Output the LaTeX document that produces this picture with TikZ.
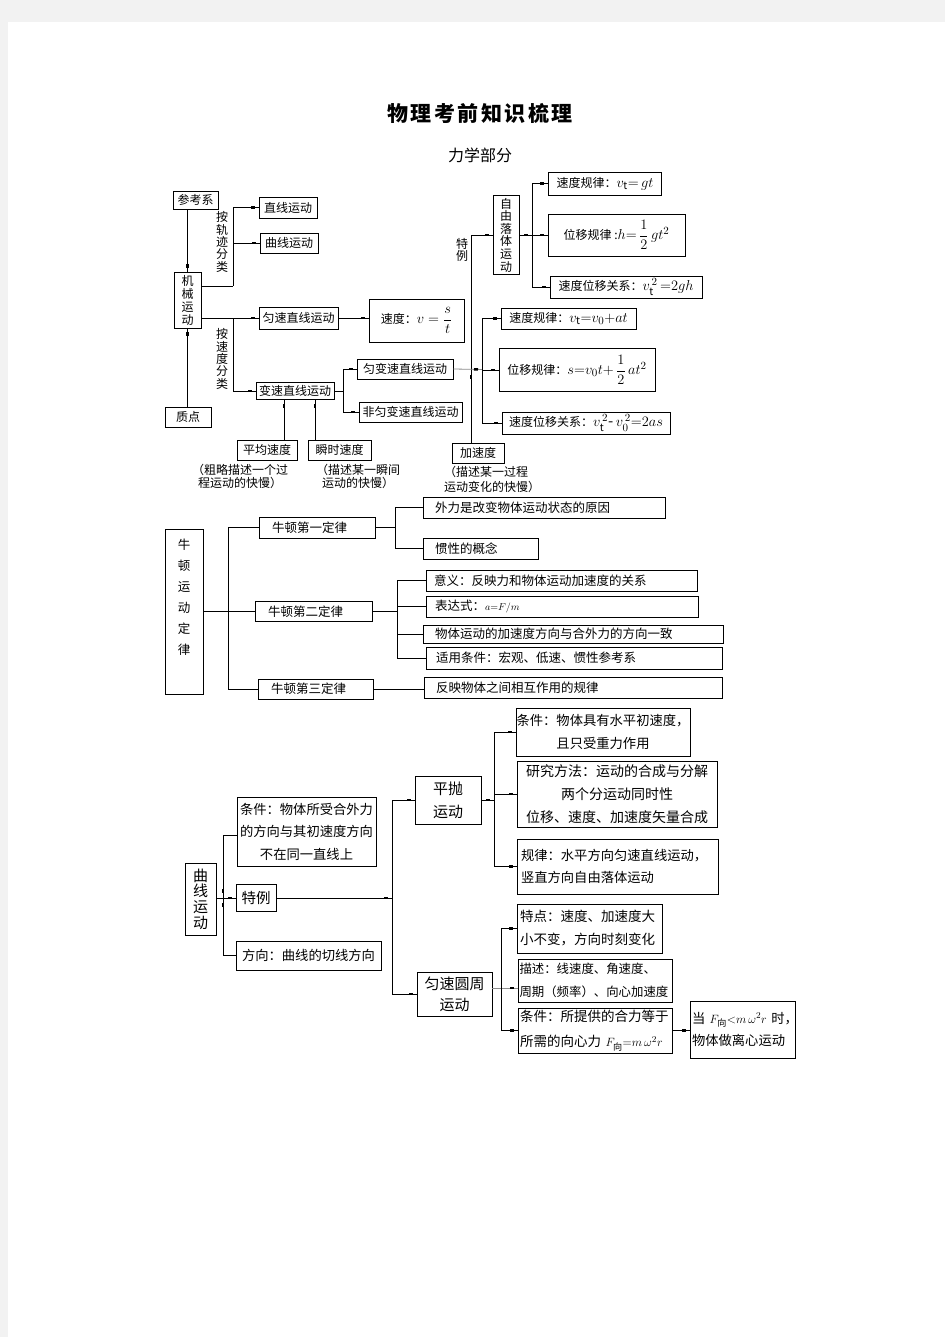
\documentclass[tikz,border=0pt]{standalone}
\usepackage{amsmath}
\usepackage{fontspec}
\setmainfont{Noto Sans CJK SC}
\usetikzlibrary{decorations.markings}
\newcommand\mymark{\fill[black] (-2pt,-1.3pt) rectangle (2pt,1.3pt);}
\newcommand\mth[1]{{\fontsize{15}{15}\selectfont$#1$}}
\newcommand\mths[1]{{\fontsize{13}{13}\selectfont$#1$}}
\begin{document}
\begin{tikzpicture}[x=1pt,y=-1pt,
  bx/.style={draw,line width=0.8pt,inner sep=0pt,align=center},
  lbx/.style={draw,line width=0.8pt,inner ysep=0pt,inner xsep=#1,align=left},
  lbx/.default=10pt,
  ln/.style={line width=0.8pt},
  gl/.style={line width=0.8pt,black!45},
  mk/.style={postaction={decorate,decoration={markings,mark=at position -6pt with {\mymark}}}},
  mks/.style={postaction={decorate,decoration={markings,mark=at position 7pt with {\mymark}}}},
  mkat/.style={postaction={decorate,decoration={markings,mark=at position #1 with {\mymark}}}},
  fA/.style={font=\fontsize{12}{13}\selectfont},
  fB/.style={font=\fontsize{12.5}{14}\selectfont},
  fC/.style={font=\fontsize{13.3}{22.5}\selectfont},
  fD/.style={font=\fontsize{15}{23}\selectfont},
]
\useasboundingbox (0,0) rectangle (945,1337);
\fill[black!5] (0,0) rectangle (945,1337);
\fill[white] (8,22) rectangle (945,1337);

% titles
\node[font=\fontsize{21}{21}\selectfont\bfseries] (title) at (480,113) {物\hspace{2.5pt}理\hspace{2.5pt}考\hspace{2.5pt}前\hspace{2.5pt}知\hspace{2.5pt}识\hspace{2.5pt}梳\hspace{2.5pt}理};
\node[font=\fontsize{16}{16}\selectfont] (subtitle) at (480,155) {力学部分};

% ---------------- Section 1 ----------------
\node[bx,fA,minimum width=45pt,minimum height=18pt] (cankao) at (195.5,200) {参考系};
\node[bx,fA,minimum width=27pt,minimum height=56pt] (jixie) at (187.5,300) {机\\械\\运\\动};
\node[bx,fA,minimum width=46pt,minimum height=20pt] (zhidian) at (188,417) {质点};
\node[bx,fA,minimum width=58pt,minimum height=21pt] (zhixian) at (288,207.5) {直线运动};
\node[bx,fA,minimum width=58pt,minimum height=20pt] (quxian) at (289,243) {曲线运动};
\node[align=center,inner sep=0pt,font=\fontsize{12}{12.3}\selectfont] (guiji) at (222,242) {按\\轨\\迹\\分\\类};
\node[align=center,inner sep=0pt,font=\fontsize{12}{12.3}\selectfont] (sdfl) at (222,359) {按\\速\\度\\分\\类};
\node[bx,fA,minimum width=79pt,minimum height=22pt] (yunsu) at (298.5,318) {匀速直线运动};
\node[bx,fA,minimum width=95pt,minimum height=43pt] (sudu) at (416.5,320.5) {速度：\mth{v=\dfrac{s}{t}}};
\node[bx,fA,minimum width=78pt,minimum height=17pt] (biansu) at (295,391) {变速直线运动};
\node[bx,fA,minimum width=96pt,minimum height=20pt] (yunbian) at (405,369) {匀变速直线运动};
\node[bx,fA,minimum width=103pt,minimum height=20pt] (feiyun) at (410.5,412) {非匀变速直线运动};
\node[bx,fA,minimum width=60pt,minimum height=20pt] (pingjun) at (267,450) {平均速度};
\node[bx,fA,minimum width=63pt,minimum height=20pt] (shunshi) at (339.5,450) {瞬时速度};
\node[fA,align=center,inner sep=0pt] (note1) at (240,476) {（粗略描述一个过\\程运动的快慢）};
\node[fA,align=center,inner sep=0pt] (note2) at (358,476) {（描述某一瞬间\\运动的快慢）};
\node[bx,fA,minimum width=52pt,minimum height=20pt] (jiasudu) at (478,453) {加速度};
\node[align=left,inner sep=0pt,anchor=north west,font=\fontsize{12}{15}\selectfont] (note3) at (444,466) {（描述某一过程\\运动变化的快慢）};
\node[align=center,inner sep=0pt,font=\fontsize{12}{12.5}\selectfont] (teliA) at (462,250) {特\\例};
\node[bx,minimum width=26pt,minimum height=79pt,font=\fontsize{12}{12.6}\selectfont] (ziyou) at (506,235) {自\\由\\落\\体\\运\\动};
\node[bx,fA,minimum width=113pt,minimum height=23pt] (zy1) at (605,183.5) {速度规律：\mth{v_{\mathrm{t}}{=}\,gt}};
\node[bx,fA,minimum width=137pt,minimum height=42pt] (zy2) at (616.5,235) {位移规律 :\mth{h{=}\,\dfrac{1}{2}\,gt^2}};
\node[bx,fA,minimum width=152pt,minimum height=22pt] (zy3) at (626,287) {速度位移关系：\mth{v_{\mathrm{t}}^{\,2}\,{=}2gh}};
\node[bx,fA,minimum width=135pt,minimum height=21pt] (yb1) at (568.5,318.5) {速度规律：\mth{v_{\mathrm{t}}{=}v_0{+}at}};
\node[bx,fA,minimum width=156pt,minimum height=43pt] (yb2) at (577,370) {位移规律：\mth{s{=}v_0t{+}\,\dfrac{1}{2}\,at^2}};
\node[bx,fA,minimum width=168pt,minimum height=22pt] (yb3) at (586,423) {速度位移关系：\mth{v_{\mathrm{t}}^{\,2}\text{-}\,v_0^{\,2}{=}2as}};

\coordinate (bA) at (233,286);
\coordinate (bB) at (233,318);
\coordinate (bC) at (343,391);
\coordinate (bD) at (482,369.5);
\coordinate (bE) at (532,235);
\draw[ln,mk] (cankao.south -| jixie.north) -- (jixie.north);
\draw[ln,mk] (zhidian.north -| jixie.south) -- (jixie.south);
\draw[ln] (jixie.east |- bA) -- (bA);
\draw[ln,mk] (bA) |- (zhixian.west);
\draw[ln,mk] (bA |- quxian.west) -- (quxian.west);
\draw[ln,mk] (jixie.east |- yunsu.west) -- (yunsu.west);
\draw[ln,mk] (bB) |- (biansu.west);
\draw[ln,mk] (yunsu.east) -- (sudu.west |- yunsu.east);
\draw[ln] (biansu.east) -- (bC);
\draw[ln,mk] (bC) |- (yunbian.west);
\draw[ln,mk] (bC) |- (feiyun.west);
\coordinate (pjt) at ([xshift=17pt]pingjun.north);
\draw[ln,mk] (pjt) -- (pjt |- biansu.south);
\coordinate (sst) at ([xshift=-24.5pt]shunshi.north);
\draw[ln,mk] (sst) -- (sst |- biansu.south);
\coordinate (jst) at ([xshift=-7pt]jiasudu.north);
\draw[ln,mk,mkat=66pt] (jst) |- (ziyou.west);
\draw[gl,mk] (yunbian.east) -- (bD);
\draw[ln,mk] (bD) |- (yb1.west);
\draw[ln,mk] (bD) |- (yb2.west);
\draw[ln,mk] (bD) |- (yb3.west);
\draw[ln,mks] (ziyou.east) -- (bE);
\draw[ln,mk] (bE) |- (zy1.west);
\draw[ln,mk] (bE) -- (zy2.west);
\draw[ln,mk] (bE) |- (zy3.west);

% ---------------- Section 2 ----------------
\node[bx,minimum width=38pt,minimum height=165pt] (niudun) at (184,611.5) {};
\node[align=center,inner sep=0pt,font=\fontsize{12.5}{21}\selectfont] (niudunT) at (184,597.5) {牛\\顿\\运\\动\\定\\律};
\node[lbx=13pt,fB,text width=90pt,minimum height=21pt] (n1) at (317,527.5) {牛顿第一定律};
\node[lbx=13pt,fB,text width=91pt,minimum height=20pt] (n2) at (313.5,611.5) {牛顿第二定律};
\node[lbx=13pt,fB,text width=89pt,minimum height=20pt] (n3) at (315.5,689) {牛顿第三定律};
\node[lbx=12pt,fB,text width=218pt,minimum height=21pt] (n1a) at (544,507.5) {外力是改变物体运动状态的原因};
\node[lbx=12pt,fB,text width=91pt,minimum height=21pt] (n1b) at (480.5,548.5) {惯性的概念};
\node[lbx=8pt,fB,text width=255pt,minimum height=21pt] (n2a) at (561.5,580.5) {意义：反映力和物体运动加速度的关系};
\node[lbx=9pt,fB,text width=254pt,minimum height=21pt] (n2b) at (562,606.5) {表达式：{\fontsize{10}{10}\selectfont$a{=}F/m$}};
\node[lbx=12pt,fB,text width=276pt,minimum height=18pt] (n2c) at (573,634) {物体运动的加速度方向与合外力的方向一致};
\node[lbx=10pt,fB,text width=276pt,minimum height=22pt] (n2d) at (574,658) {适用条件：宏观、低速、惯性参考系};
\node[lbx=12pt,fB,text width=274pt,minimum height=21pt] (n3a) at (573,688) {反映物体之间相互作用的规律};

\coordinate (bF) at (228,611.5);
\coordinate (bG) at (395,527.5);
\coordinate (bH) at (397,611.5);
\draw[ln] (niudun.east) -- (n2.west);
\draw[ln] (bF) |- (n1.west);
\draw[ln] (bF) |- (n3.west);
\draw[ln] (n1.east) -- (bG);
\draw[ln] (bG) |- (n1a.west);
\draw[ln] (bG) |- (n1b.west);
\draw[ln] (n2.east) -- (bH);
\draw[ln] (bH) |- (n2a.west);
\draw[ln] (bH) |- (n2b.west);
\draw[ln] (bH) |- (n2c.west);
\draw[ln] (bH) |- (n2d.west);
\draw[ln] (n3.east) -- (n3.east -| n3a.west);

% ---------------- Section 3 ----------------
\node[bx,minimum width=31pt,minimum height=72pt,font=\fontsize{15}{15.7}\selectfont] (qxyd) at (200.5,899) {曲\\线\\运\\动};
\node[bx,fC,minimum width=139pt,minimum height=69pt] (tj1) at (306.5,831.5) {条件：物体所受合外力\\的方向与其初速度方向\\不在同一直线上};
\node[bx,font=\fontsize{14.5}{15}\selectfont,minimum width=40pt,minimum height=27pt] (teli) at (256,898) {特例};
\node[bx,fC,minimum width=145pt,minimum height=29pt] (fx) at (308.5,955.5) {方向：曲线的切线方向};
\node[bx,fD,minimum width=66pt,minimum height=48pt] (pingpao) at (448,800) {平抛\\运动};
\node[bx,font=\fontsize{15}{21}\selectfont,minimum width=75pt,minimum height=44pt] (yuanzhou) at (454.5,994) {匀速圆周\\运动};
\node[bx,fC,minimum width=174pt,minimum height=48pt] (pp1) at (603,732) {条件：物体具有水平初速度，\\且只受重力作用};
\node[bx,font=\fontsize{14}{23}\selectfont,minimum width=200pt,minimum height=66pt] (pp2) at (617,794) {研究方法：运动的合成与分解\\两个分运动同时性\\位移、速度、加速度矢量合成};
\node[lbx=4pt,fC,text width=193pt,minimum height=55pt] (pp3) at (617.5,866.5) {规律：水平方向匀速直线运动，\\竖直方向自由落体运动};
\node[lbx=3pt,font=\fontsize{13.5}{23}\selectfont,text width=139pt,minimum height=49pt] (yz1) at (589.5,928.5) {特点：速度、加速度大\\小不变，方向时刻变化};
\node[lbx=1.5pt,font=\fontsize{12.4}{23}\selectfont,text width=151pt,minimum height=43pt] (yz2) at (595,980.5) {描述：线速度、角速度、\\周期（频率）、向心加速度};
\node[lbx=2pt,font=\fontsize{13.5}{25}\selectfont,text width=150pt,minimum height=45pt] (yz3) at (595,1030.5) {条件：所提供的合力等于\\\mbox{所需的向心力~\mths{F_{\text{向}}{=}m\,\omega^2r}}};
\node[lbx=2pt,fC,text width=101pt,minimum height=57pt] (dang) at (742.5,1029.5) {\mbox{当~\mths{F_{\text{向}}{<}m\,\omega^2r}~时，}\\物体做离心运动};

\coordinate (bI) at (223,898);
\coordinate (bJ) at (392,898);
\coordinate (bK) at (494,800);
\coordinate (bL) at (501,988);
\draw[ln,mk] (qxyd.east |- teli.west) -- (teli.west);
\draw[ln,mks] (bI) |- ([yshift=-3.5pt]tj1.west);
\draw[ln,mks] (bI) |- (fx.west);
\draw[ln,mk] (teli.east) -- (bJ);
\draw[ln,mk] (bJ) |- (pingpao.west);
\draw[ln,mk] (bJ) |- (yuanzhou.west);
\draw[ln,mk] (pingpao.east) -- (bK);
\draw[ln,mk] (bK) |- (pp1.west);
\draw[ln,mk] (bK) |- (pp2.west);
\draw[ln,mk] (bK) |- (pp3.west);
\draw[gl] ([yshift=6pt]yuanzhou.east) -- (bL);
\draw[gl,mk] (bL) -- (bL -| yz2.west);
\draw[ln,mk] (bL) |- (yz1.west);
\draw[ln,mk] (bL) |- (yz3.west);
\draw[ln,mk] (yz3.east) -- (yz3.east -| dang.west);
\end{tikzpicture}
\end{document}
